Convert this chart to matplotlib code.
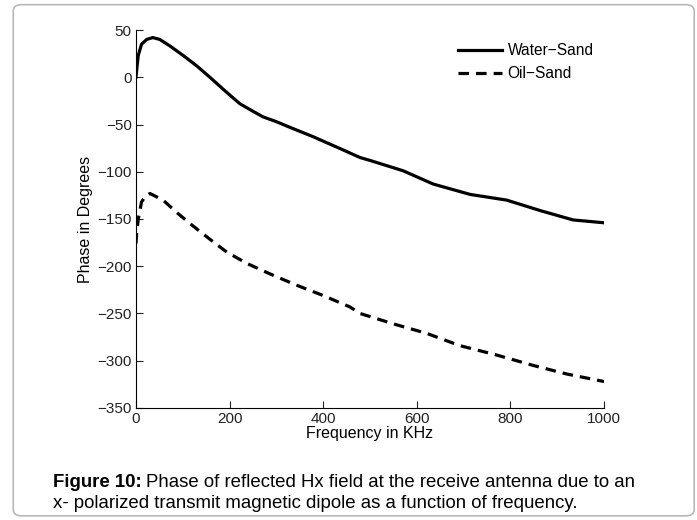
import matplotlib
matplotlib.use("Agg")
import matplotlib.pyplot as plt
from matplotlib.patches import FancyBboxPatch

plt.rcParams['font.family'] = ['Liberation Sans', 'DejaVu Sans']

# values
freq_water = [0, 5, 12, 23, 36, 51, 73, 101, 130, 158, 194, 222, 250, 272, 300,
              329, 379, 443, 479, 500, 571, 635, 714, 792, 863, 934, 1000]
phase_water = [0, 23, 35, 40, 42, 40, 33, 23, 12, 0, -16, -28, -36, -42, -47,
               -53, -63, -77, -85, -88, -99, -113, -124, -130, -141, -151, -154]

freq_oil = [0, 2, 5, 12, 20, 30, 58, 87, 116, 144, 170, 194, 237, 286, 343,
            400, 457, 479, 550, 621, 692, 771, 849, 920, 1000]
phase_oil = [-176, -163, -150, -132, -126, -123, -130, -143, -155, -166, -176,
             -185, -197, -208, -220, -231, -243, -250, -261, -271, -284, -294,
             -305, -314, -322]

xticks = [0, 200, 400, 600, 800, 1000]
yticks = [50, 0, -50, -100, -150, -200, -250, -300, -350]

fig = plt.figure(figsize=(6.97, 5.2), dpi=100)
ax = fig.add_axes([0.195, 0.2154, 0.6716, 0.7269])

ax.plot(freq_water, phase_water, color='black', lw=2.3, label='Water\u2212Sand')
ax.plot(freq_oil, phase_oil, color='black', lw=2.3, linestyle=(0, (3.3, 2.2)),
        label='Oil\u2212Sand')

ax.set_xlim(0, 1000)
ax.set_ylim(-350, 50)
ax.set_xticks(xticks)
ax.set_yticks(yticks)
ax.spines['top'].set_visible(False)
ax.spines['right'].set_visible(False)
ax.tick_params(direction='in', length=5, labelsize=11, colors='#222222', pad=3)
ax.set_xlabel('Frequency in KHz', fontsize=11.5, labelpad=0)
ax.set_ylabel('Phase in Degrees', fontsize=11.5, labelpad=3)

ax.legend(loc='upper left', bbox_to_anchor=(0.688, 0.965), frameon=False,
          fontsize=11.2, handlelength=2.8, handletextpad=0.4, borderaxespad=0,
          borderpad=0, labelspacing=0.5)

# rounded border box
box = FancyBboxPatch((0.019, 0.008), 0.977, 0.983, boxstyle="round,pad=0,rounding_size=0.012",
                     transform=fig.transFigure, fill=False, edgecolor='#b8b8b8', lw=1.2)
fig.patches.append(box)

# caption: bold label followed by normal text
cap_x, cap_y1, cap_y2 = 0.076, 0.063, 0.024
t1 = fig.text(cap_x, cap_y1, 'Figure 10:', fontsize=13.45, fontweight='bold')
fig.canvas.draw()
bb = t1.get_window_extent()
x_next = bb.x1 / fig.bbox.width + 0.006
fig.text(x_next, cap_y1, 'Phase of reflected Hx field at the receive antenna due to an', fontsize=13.45)
fig.text(cap_x, cap_y2, 'x- polarized transmit magnetic dipole as a function of frequency.', fontsize=13.45)

fig.savefig('out.png', dpi=100)
